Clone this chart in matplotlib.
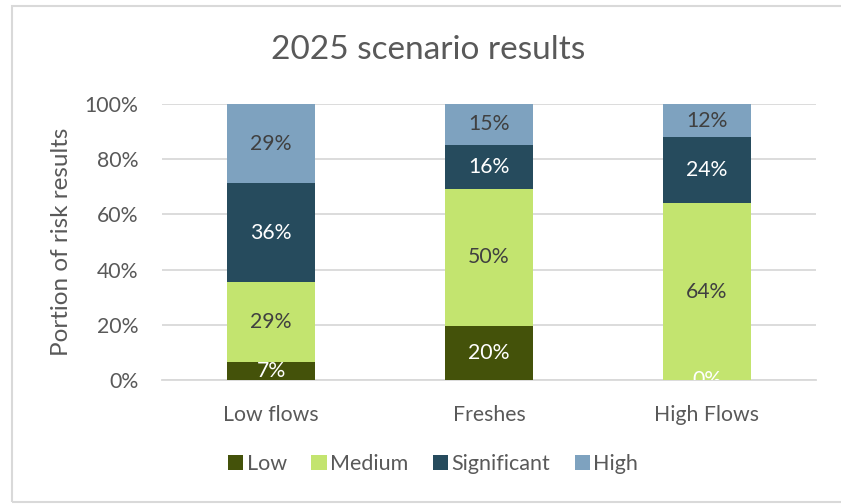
import matplotlib
matplotlib.use("Agg")
import matplotlib.pyplot as plt
from matplotlib.patches import Rectangle, Patch
import numpy as np

plt.rcParams['font.family'] = ['Lato', 'DejaVu Sans']

# Data: share of risk results per scenario (percent)
scenarios = ["Low flows", "Freshes", "High Flows"]
risk_levels = ["Low", "Medium", "Significant", "High"]
low = [6.7, 19.6, 0.0]
medium = [28.9, 49.6, 64.0]
significant = [35.6, 16.0, 24.0]
high = [28.8, 14.8, 12.0]
yticks = [0, 20, 40, 60, 80, 100]

colors = ["#44520A", "#C3E46F", "#264B5D", "#7EA2BF"]
label_colors = ["white", "#404040", "white", "#404040"]
grey = "#595959"

fig = plt.figure(figsize=(8.41, 5.04), dpi=100)
W, H = 841, 504
ax = fig.add_axes([162 / W, 1 - 380 / H, (816 - 162) / W, (380 - 104) / H])

x = np.arange(len(scenarios))
bottom = np.zeros(len(scenarios))
series = [low, medium, significant, high]
for vals, col, lcol in zip(series, colors, label_colors):
    vals = np.array(vals)
    ax.bar(x, vals, width=0.4, bottom=bottom, color=col, zorder=3)
    for xi, b, v in zip(x, bottom, vals):
        ax.text(xi, b + v / 2, f"{v:.0f}%", ha="center", va="center",
                color=lcol, fontsize=15.3, zorder=4, clip_on=True)
    bottom += vals

ax.set_xlim(-0.5, len(scenarios) - 0.5)
ax.set_ylim(0, 100)
ax.set_yticks(yticks)
ax.set_yticklabels([f"{t}%" for t in yticks])
ax.set_xticks(x)
ax.set_xticklabels(scenarios)
ax.yaxis.grid(True, color="#D9D9D9", linewidth=1.3, zorder=0)
ax.set_axisbelow(True)
for s in ["left", "right", "top"]:
    ax.spines[s].set_visible(False)
ax.spines["bottom"].set_color("#D9D9D9")
ax.spines["bottom"].set_linewidth(1.3)
ax.tick_params(axis="both", length=0, colors=grey, labelsize=15.3)
ax.tick_params(axis="y", pad=17)
ax.tick_params(axis="x", pad=18)
ax.set_ylabel("Portion of risk results", color=grey, fontsize=17.5, labelpad=9)

fig.text(428 / W, 1 - 50 / H, "2025 scenario results", ha="center", va="center",
         color=grey, fontsize=24)

handles = [Patch(facecolor=c, edgecolor="none") for c in colors]
fig.legend(handles, risk_levels, loc="center", bbox_to_anchor=(433 / W, 1 - 464 / H),
           ncol=4, frameon=False, fontsize=15.5, labelcolor=grey,
           handlelength=0.7, handleheight=0.7, handletextpad=0.15, columnspacing=1.15)

# chart area border
fig.patches.append(Rectangle((11.5 / W, 1 - 502 / H), (845 - 11.5) / W, (502 - 5.5) / H,
                             transform=fig.transFigure, fill=False,
                             edgecolor="#D9D9D9", linewidth=1.5))

fig.savefig("out.png", dpi=100)
